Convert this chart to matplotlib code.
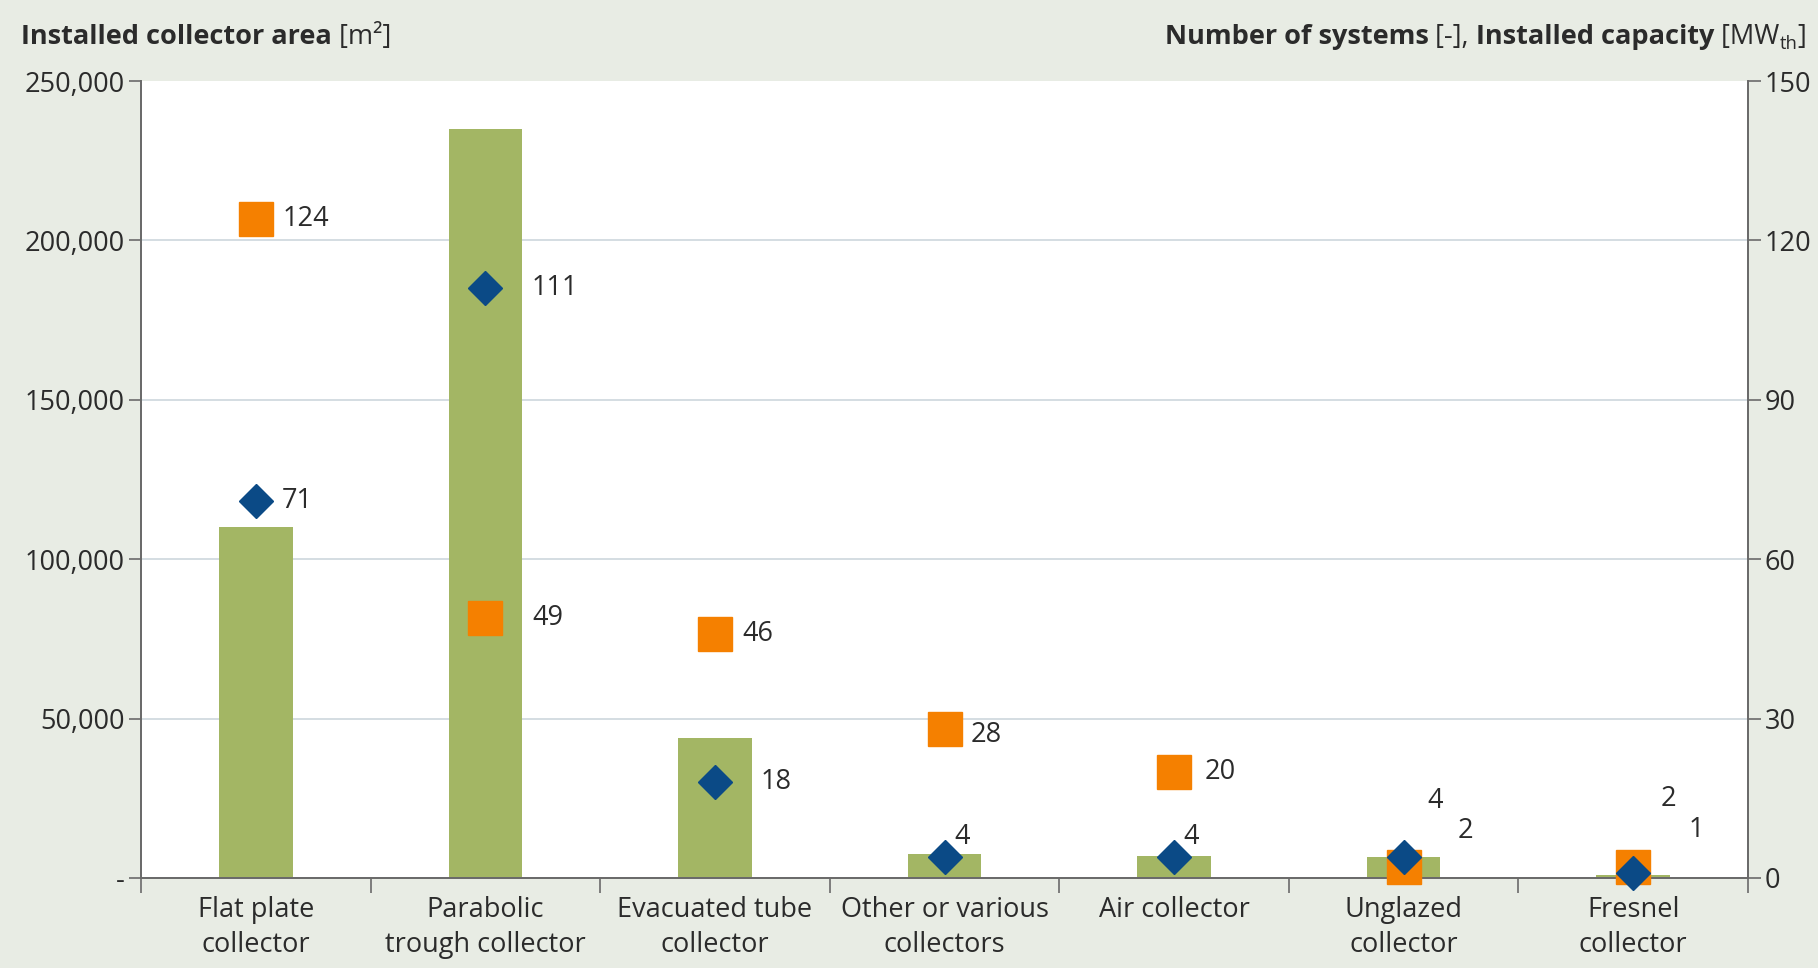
"""Solar thermal collectors: area, number of systems and capacity per type"""

import matplotlib
matplotlib.use("Agg")
import matplotlib.pyplot as plt
from matplotlib.ticker import FixedLocator, FuncFormatter, NullFormatter

plt.rcParams['font.family'] = ['Open Sans', 'DejaVu Sans']

categories = ['Flat plate\ncollector', 'Parabolic\ntrough collector',
              'Evacuated tube\ncollector', 'Other or various\ncollectors',
              'Air collector', 'Unglazed\ncollector', 'Fresnel\ncollector']
collector_area = [110000, 235000, 44000, 7500, 7000, 6500, 1000]   # m²
num_systems = [124, 49, 46, 28, 20, 2, 2]                         # -
capacity = [71, 111, 18, 4, 4, 4, 1]                              # MWth

left_ticks = [0, 50000, 100000, 150000, 200000, 250000]
right_ticks = [0, 30, 60, 90, 120, 150]

BG = '#e8ece4'
GREEN = '#a3b664'
ORANGE = '#f58000'
BLUE = '#0b4a86'
TEXT = '#2b2b2b'
SPINE = '#6a6a6a'
FS = 19.5

# label offsets (points) from each marker
sys_offsets = [(19, 0), (34, 0), (20, 0), (19, -4), (22, 0), (39, 26), (20, 49)]
cap_offsets = [(19, 0), (33, 0), (33, 0), (7, 14), (7, 14), (17, 40), (40, 31)]

fig = plt.figure(figsize=(18.18, 9.68), dpi=100, facecolor=BG)
ax = fig.add_axes([0.0776, 0.0930, 0.8839, 0.8233])
ax.set_facecolor('white')
ax2 = ax.twinx()

x = list(range(len(categories)))
ax.bar(x, collector_area, width=0.32, color=GREEN, zorder=2)
ax.set_ylim(0, 250000)
ax.set_xlim(-0.5, len(categories) - 0.5)
ax.yaxis.set_major_locator(FixedLocator(left_ticks))
ax.yaxis.set_major_formatter(FuncFormatter(lambda v, p: '-' if v == 0 else f'{int(v):,}'))
for t in left_ticks[1:-1]:
    ax.axhline(t, color='#cdd7dd', lw=1.2, zorder=1)

# category boundaries carry the ticks, names sit at the centres
ax.xaxis.set_major_locator(FixedLocator([i - 0.5 for i in range(len(categories) + 1)]))
ax.xaxis.set_major_formatter(NullFormatter())
ax.xaxis.set_minor_locator(FixedLocator(x))
ax.set_xticklabels(categories, minor=True, fontsize=FS, color=TEXT, linespacing=1.35)
ax.tick_params(axis='x', which='major', direction='out', length=11, width=1.2, color=SPINE)
ax.tick_params(axis='x', which='minor', length=0, pad=13)
ax.tick_params(axis='y', direction='out', length=9, width=1.2, color=SPINE,
               labelsize=FS, labelcolor=TEXT, pad=3)

ax2.set_ylim(0, 150)
ax2.yaxis.set_major_locator(FixedLocator(right_ticks))
ax2.tick_params(axis='y', direction='out', length=9, width=1.2, color=SPINE,
                labelsize=FS, labelcolor=TEXT, pad=3)

for a in (ax, ax2):
    a.spines['top'].set_visible(False)
    for s in ('left', 'right', 'bottom'):
        a.spines[s].set_color(SPINE)
        a.spines[s].set_linewidth(1.3)

ax2.plot(x, num_systems, 's', color=ORANGE, markersize=25, zorder=4, ls='none',
         clip_on=False)
ax2.plot(x, capacity, 'D', color=BLUE, markersize=17.5, zorder=5, ls='none',
         clip_on=False)
ax2.set_zorder(ax.get_zorder() + 1)
ax2.patch.set_visible(False)

for xi, v, off in zip(x, num_systems, sys_offsets):
    ax2.annotate(str(v), (xi, v), xytext=off, textcoords='offset points',
                 ha='left', va='center', fontsize=FS, color=TEXT, zorder=6)
for xi, v, off in zip(x, capacity, cap_offsets):
    ax2.annotate(str(v), (xi, v), xytext=off, textcoords='offset points',
                 ha='left', va='center', fontsize=FS, color=TEXT, zorder=6)


def draw_pieces(pieces, x0, y0, align='left'):
    """Write (text, bold, subscript) runs one after another on the figure."""
    renderer = fig.canvas.get_renderer()
    items = []
    total = 0
    for s, bold, sub in pieces:
        t = fig.text(0, 0, s, fontsize=FS * (0.68 if sub else 1),
                     fontweight='bold' if bold else 'normal', color=TEXT,
                     va='baseline', ha='left')
        w = t.get_window_extent(renderer).width / fig.bbox.width
        items.append((t, w, sub))
        total += w
    cur = x0 - total if align == 'right' else x0
    for t, w, sub in items:
        t.set_position((cur, y0 - (0.006 if sub else 0)))
        cur += w


draw_pieces([('Installed collector area', True, False), (' [m²]', False, False)],
            0.0115, 0.955)
draw_pieces([('Number of systems', True, False), (' [-], ', False, False),
             ('Installed capacity', True, False), (' [MW', False, False),
             ('th', False, True), (']', False, False)],
            0.9935, 0.955, align='right')

fig.savefig('out.png', dpi=100, facecolor=BG)
